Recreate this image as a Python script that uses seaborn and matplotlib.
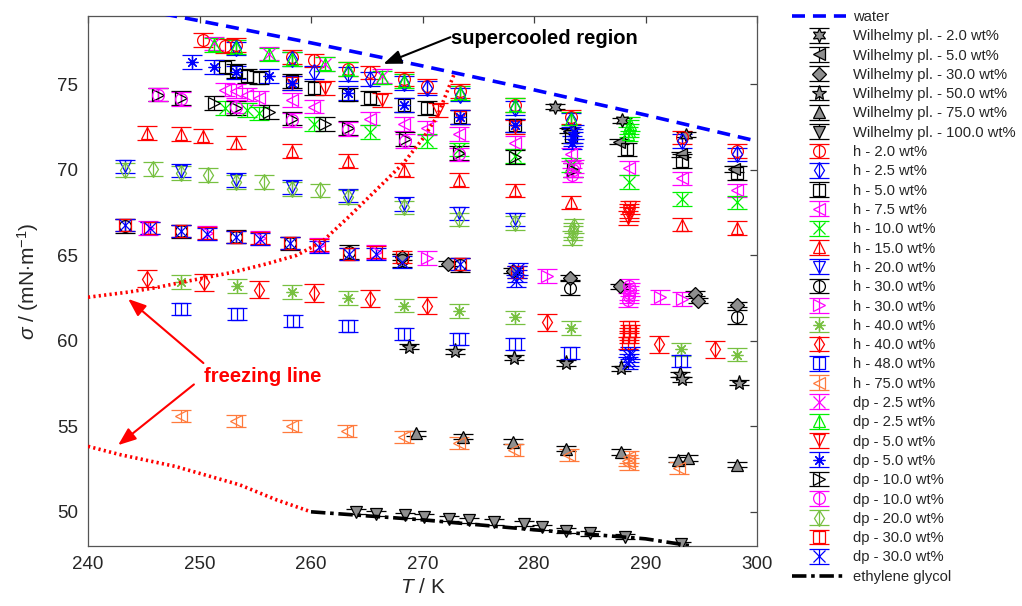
import matplotlib
matplotlib.use('Agg')
import matplotlib.pyplot as plt
import seaborn as sns
from matplotlib.lines import Line2D

# ---------------- data ----------------
T_water = [245, 250, 260, 270, 280, 290, 300]
S_water = [79.34, 78.72, 77.43, 76.08, 74.68, 73.21, 71.68]

T_freeze_hi = [240, 243.6, 246, 249, 252.9, 256, 258.7, 261, 263.3, 265.5, 268.3, 270, 271.3, 272.9]
S_freeze_hi = [62.55, 62.85, 63.1, 63.5, 64.0, 64.5, 65.0, 65.8, 67.2, 68.6, 70.4, 71.8, 73.1, 75.7]
T_freeze_lo = [240, 242.9, 247.8, 253.6, 256.9, 260]
S_freeze_lo = [53.83, 53.34, 52.66, 51.58, 50.7, 50.0]

T_eg = [260, 270, 280, 290, 294.2]
S_eg = [50.0, 49.53, 48.95, 48.42, 48.0]

T_w2 = [281.9, 287.9, 293.6]
S_w2 = [73.7, 72.9, 72.05]
T_w5 = [283.1, 287.6, 293.2, 297.9]
S_w5 = [72.3, 71.65, 70.9, 70.05]
T_w30 = [268.2, 272.3, 278.1, 283.2, 287.7, 294.4, 294.7, 298.2]
S_w30 = [64.9, 64.5, 64.1, 63.7, 63.2, 62.75, 62.35, 62.1]
T_w50 = [268.75, 272.9, 278.2, 282.9, 287.8, 293.1, 293.3, 298.4]
S_w50 = [59.66, 59.4, 59.0, 58.7, 58.4, 58.04, 57.75, 57.55]
T_w75 = [269.4, 273.6, 278.1, 282.9, 287.8, 292.9, 293.8, 298.2]
S_w75 = [54.6, 54.4, 54.1, 53.7, 53.5, 53.05, 53.15, 52.75]
T_w100 = [264.0, 265.8, 268.4, 270.1, 272.4, 274.2, 276.4, 279.1, 280.7, 282.9, 285.0, 288.2, 293.2]
S_w100 = [50.0, 49.9, 49.8, 49.7, 49.6, 49.5, 49.4, 49.3, 49.1, 48.9, 48.75, 48.55, 48.1]

T_h2 = [250.3, 252.3, 253.3, 258.3, 260.3, 263.3, 265.3, 268.3, 270.4, 273.4, 278.3, 283.3, 293.3, 298.2]
S_h2 = [77.6, 77.25, 77.3, 76.6, 76.4, 75.9, 75.7, 75.3, 74.9, 74.6, 73.8, 73.1, 71.9, 71.1]
T_h25 = [253.3, 258.3, 260.3, 263.3, 265.3, 268.3, 270.4, 273.4, 278.3, 283.3, 293.3, 298.2]
S_h25 = [77.1, 76.5, 75.7, 75.6, 75.3, 75.1, 74.8, 74.4, 73.6, 72.9, 71.7, 70.9]
T_h5 = [252.3, 253.3, 254.3, 255.3, 258.3, 260.3, 263.3, 265.3, 268.3, 270.4, 273.4, 278.3, 283.3, 288.3, 293.3, 298.2]
S_h5 = [76.0, 75.8, 75.5, 75.4, 75.2, 74.8, 74.4, 74.2, 73.8, 73.6, 73.1, 72.6, 72.0, 71.2, 70.5, 69.8]
T_h75s = [252.3, 253.3, 254.3, 255.3, 258.3, 260.3, 265.3, 268.3, 270.4, 273.3, 278.3, 283.3, 288.5, 293.3, 298.2]
S_h75s = [74.7, 74.6, 74.4, 74.2, 74.1, 73.7, 73.0, 72.7, 72.45, 72.1, 71.6, 70.9, 70.1, 69.5, 68.8]
T_h10 = [252.3, 254.3, 255.3, 260.3, 265.3, 270.4, 273.3, 278.3, 283.3, 288.5, 293.3, 298.2]
S_h10 = [73.6, 73.5, 73.3, 72.7, 72.2, 71.7, 71.2, 70.8, 70.3, 69.3, 68.3, 68.1]
T_h15 = [245.3, 248.3, 250.3, 253.3, 258.3, 263.3, 268.3, 273.3, 278.3, 283.3, 293.3, 298.2]
S_h15 = [72.16, 72.1, 72.0, 71.6, 71.1, 70.5, 70.0, 69.4, 68.8, 68.1, 66.8, 66.6]
T_h20 = [243.3, 248.3, 253.3, 258.3, 263.3, 268.3, 273.3, 278.3]
S_h20 = [70.2, 69.96, 69.4, 69.0, 68.5, 68.0, 67.45, 67.1]
T_h30k = [243.3, 248.3, 253.3, 258.1, 263.4, 268.15, 273.4, 283.2, 298.2]
S_h30k = [66.7, 66.4, 66.1, 65.7, 65.2, 64.7, 64.45, 63.1, 61.4]
T_h30m = [245.4, 250.7, 255.4, 260.7, 265.8, 270.4, 281.2, 291.3, 293.3]
S_h30m = [66.6, 66.3, 66.0, 65.6, 65.2, 64.85, 63.8, 62.55, 62.45]
T_h40g = [248.3, 253.35, 258.3, 263.3, 268.35, 273.3, 278.3, 283.3, 293.2, 298.2]
S_h40g = [63.43, 63.2, 62.85, 62.5, 62.06, 61.76, 61.37, 60.75, 59.5, 59.2]
T_h40r = [245.3, 250.4, 255.3, 260.3, 265.3, 270.4, 281.15, 291.2, 296.2]
S_h40r = [63.63, 63.43, 63.0, 62.8, 62.45, 62.06, 61.08, 59.8, 59.5]
T_h48 = [248.3, 253.35, 258.35, 263.3, 268.35, 273.3, 278.3, 283.2, 293.2]
S_h48 = [61.86, 61.57, 61.18, 60.84, 60.39, 60.1, 59.8, 59.3, 58.8]
T_h75 = [248.3, 253.3, 258.3, 263.2, 268.3, 273.3, 278.2, 283.1, 288.4, 288.5, 288.5, 293.0]
S_h75 = [55.6, 55.3, 55.0, 54.7, 54.4, 54.0, 53.6, 53.3, 53.0, 52.8, 53.2, 52.55]

T_dp25m = [251.3, 256.2, 261.3, 266.4]
S_dp25m = [77.4, 76.8, 76.2, 75.5]
T_dp25g = [251.3, 253.3, 256.2, 258.3, 261.3, 263.3, 266.4, 268.3, 273.4, 278.3, 283.3, 288.4, 288.5, 288.5, 288.6]
S_dp25g = [77.3, 77.2, 76.75, 76.5, 76.2, 75.9, 75.4, 75.2, 74.5, 73.8, 73.0, 72.1, 72.3, 72.5, 72.7]
T_dp5r = [258.3, 261.3, 266.4, 271.4, 273.4, 278.3, 288.4, 288.5, 288.5, 288.6]
S_dp5r = [75.1, 74.8, 74.1, 73.5, 73.1, 72.5, 67.2, 67.4, 67.6, 67.8]
T_dp5b = [249.3, 251.3, 253.3, 256.2, 258.3, 263.3, 268.3, 273.4, 278.3, 283.4, 283.5, 283.5, 283.6]
S_dp5b = [76.3, 76.0, 75.7, 75.5, 75.1, 74.5, 73.8, 73.1, 72.6, 71.6, 71.8, 72.0, 72.2]
T_dp10k = [246.3, 248.3, 251.3, 253.3, 256.2, 258.3, 261.3, 263.3, 268.4, 273.3, 278.3, 283.5]
S_dp10k = [74.4, 74.2, 73.9, 73.6, 73.4, 73.0, 72.7, 72.45, 71.8, 71.0, 70.75, 70.0]
T_dp10m = [246.3, 248.3, 253.3, 258.3, 263.3, 268.4, 273.3, 283.4, 283.5, 283.6, 288.4, 288.5, 288.5, 288.6, 288.5]
S_dp10m = [74.4, 74.15, 73.7, 72.9, 72.4, 71.7, 70.9, 69.7, 70.0, 70.2, 62.4, 62.6, 62.8, 63.0, 63.2]
T_dp20 = [243.3, 245.8, 248.3, 250.8, 253.3, 255.8, 258.3, 260.8, 263.3, 268.3, 273.3, 278.3, 283.4, 283.5, 283.5, 283.6]
S_dp20 = [70.0, 70.04, 69.8, 69.7, 69.3, 69.3, 68.9, 68.8, 68.4, 67.8, 67.1, 66.9, 66.0, 66.3, 66.5, 66.7]
T_dp30r = [243.3, 245.6, 248.3, 250.7, 253.3, 255.4, 258.1, 260.7, 263.4, 265.8, 268.15, 273.4, 278.5, 288.4, 288.5, 288.5, 288.6, 288.5]
S_dp30r = [66.8, 66.6, 66.4, 66.3, 66.1, 66.0, 65.7, 65.6, 65.1, 65.2, 64.9, 64.5, 64.0, 59.9, 60.2, 60.4, 60.6, 60.8]
T_dp30b = [243.3, 245.6, 248.3, 250.7, 253.3, 255.4, 258.1, 260.7, 263.4, 265.8, 268.15, 273.4, 278.4, 278.5, 278.5, 278.6, 288.4, 288.5, 288.5, 288.6]
S_dp30b = [66.8, 66.6, 66.4, 66.25, 66.1, 65.95, 65.7, 65.5, 65.1, 65.1, 64.6, 64.5, 63.5, 63.8, 64.0, 64.2, 58.7, 58.9, 59.1, 59.3]

# ---------------- style ----------------
sns.set_theme(style='white')
plt.rcParams['font.family'] = ['Liberation Sans', 'DejaVu Sans']
plt.rcParams['mathtext.fontset'] = 'custom'
plt.rcParams['mathtext.rm'] = 'Liberation Sans'
plt.rcParams['mathtext.it'] = 'Liberation Sans:italic'

RED, BLUE, BLACK, MAG, GRN = (1, 0, 0), (0, 0, 1), (0, 0, 0), (1, 0, 1), (0, 0.95, 0)
LGRN, ORNG, GRAY = '#77c040', '#ff7a3c', '#8f8f8f'

fig = plt.figure(figsize=(10.22, 6.06), dpi=100)
ax = fig.add_axes([88 / 1022, 1 - 546 / 606, (757 - 88) / 1022, (546 - 16) / 606])

# lines through seaborn
sns.lineplot(x=T_water, y=S_water, ax=ax, color='blue', linewidth=2.6,
             linestyle=(0, (3.6, 2.2)), sort=False, estimator=None, zorder=5)
sns.lineplot(x=T_freeze_hi, y=S_freeze_hi, ax=ax, color='red', linewidth=2.6,
             linestyle=(0, (0.6, 0.9)), sort=False, estimator=None, zorder=5)
sns.lineplot(x=T_freeze_lo, y=S_freeze_lo, ax=ax, color='red', linewidth=2.6,
             linestyle=(0, (0.6, 0.9)), sort=False, estimator=None, zorder=5)

series = [
    (T_w2, S_w2, 0.15, (6, 1, 0), BLACK, GRAY, 'Wilhelmy pl. - 2.0 wt%'),
    (T_w5, S_w5, 0.15, '<', BLACK, GRAY, 'Wilhelmy pl. - 5.0 wt%'),
    (T_w30, S_w30, 0.15, 'D', BLACK, GRAY, 'Wilhelmy pl. - 30.0 wt%'),
    (T_w50, S_w50, 0.15, '*', BLACK, GRAY, 'Wilhelmy pl. - 50.0 wt%'),
    (T_w75, S_w75, 0.15, '^', BLACK, GRAY, 'Wilhelmy pl. - 75.0 wt%'),
    (T_w100, S_w100, 0.15, 'v', BLACK, GRAY, 'Wilhelmy pl. - 100.0 wt%'),
    (T_h2, S_h2, 0.4, 'o', RED, None, 'h - 2.0 wt%'),
    (T_h25, S_h25, 0.4, 'd', BLUE, None, 'h - 2.5 wt%'),
    (T_h5, S_h5, 0.4, 's', BLACK, None, 'h - 5.0 wt%'),
    (T_h75s, S_h75s, 0.4, '<', MAG, None, 'h - 7.5 wt%'),
    (T_h10, S_h10, 0.4, 'x', GRN, None, 'h - 10.0 wt%'),
    (T_h15, S_h15, 0.4, '^', RED, None, 'h - 15.0 wt%'),
    (T_h20, S_h20, 0.4, 'v', BLUE, None, 'h - 20.0 wt%'),
    (T_h30k, S_h30k, 0.4, 'o', BLACK, None, 'h - 30.0 wt%'),
    (T_h30m, S_h30m, 0.4, '>', MAG, None, 'h - 30.0 wt%'),
    (T_h40g, S_h40g, 0.4, (8, 2, 0), LGRN, None, 'h - 40.0 wt%'),
    (T_h40r, S_h40r, 0.5, 'd', RED, None, 'h - 40.0 wt%'),
    (T_h48, S_h48, 0.35, 's', BLUE, None, 'h - 48.0 wt%'),
    (T_h75, S_h75, 0.35, '<', ORNG, None, 'h - 75.0 wt%'),
    (T_dp25m, S_dp25m, 0.4, 'x', MAG, None, 'dp - 2.5 wt%'),
    (T_dp25g, S_dp25g, 0.4, '^', GRN, None, 'dp - 2.5 wt%'),
    (T_dp5r, S_dp5r, 0.4, 'v', RED, None, 'dp - 5.0 wt%'),
    (T_dp5b, S_dp5b, 0.4, (8, 2, 0), BLUE, None, 'dp - 5.0 wt%'),
    (T_dp10k, S_dp10k, 0.4, '>', BLACK, None, 'dp - 10.0 wt%'),
    (T_dp10m, S_dp10m, 0.4, 'o', MAG, None, 'dp - 10.0 wt%'),
    (T_dp20, S_dp20, 0.4, 'd', LGRN, None, 'dp - 20.0 wt%'),
    (T_dp30r, S_dp30r, 0.35, 's', RED, None, 'dp - 30.0 wt%'),
    (T_dp30b, S_dp30b, 0.35, 'x', BLUE, None, 'dp - 30.0 wt%'),
]

handles = []
water_h = Line2D([], [], color='blue', lw=2.6, linestyle=(0, (3.6, 2.2)))
handles.append((water_h, 'water'))
for T, S, e, m, c, fill, lab in series:
    ms = 8.5
    if m == '*':
        ms = 11
    if m == (6, 1, 0):
        ms = 10
    if m == 'D':
        ms = 7
    cont = ax.errorbar(T, S, yerr=e, marker=m, linestyle='none',
                       color=c, mec=c, mfc=(fill if fill is not None else 'none'),
                       ms=ms, mew=0.9, elinewidth=0.9, capsize=7, capthick=0.9,
                       ecolor=c, zorder=3)
    handles.append((cont, lab))

sns.lineplot(x=T_eg, y=S_eg, ax=ax, color='black', linewidth=2.6,
             linestyle=(0, (4.0, 1.3, 1.0, 1.3)), sort=False, estimator=None, zorder=6)
eg_h = Line2D([], [], color='black', lw=2.6, linestyle=(0, (4.0, 1.3, 1.0, 1.3)))
handles.append((eg_h, 'ethylene glycol'))

# ---------------- axes ----------------
ax.set_xlim(240, 300)
ax.set_ylim(48, 79)
ax.set_xticks([240, 250, 260, 270, 280, 290, 300])
ax.set_yticks([50, 55, 60, 65, 70, 75])
ax.tick_params(direction='in', top=True, right=True, length=5, width=0.9,
               colors='#404040', labelcolor='#262626', labelsize=13.5, pad=7)
for sp in ax.spines.values():
    sp.set_color('#555555')
    sp.set_linewidth(0.9)
    sp.set_visible(True)
ax.set_xlabel(r'$T$ / K', fontsize=15, color='#262626', labelpad=4)
ax.set_ylabel(r'$\sigma$ / (mN$\cdot$m$^{-1}$)', fontsize=15, color='#262626', labelpad=12)

# ---------------- annotations ----------------
ax.text(272.6, 77.7, 'supercooled region', fontsize=14.5, fontweight='bold',
        color='black', ha='left', va='center', zorder=10)
ax.annotate('', xy=(266.5, 76.2), xytext=(272.5, 77.76),
            arrowprops=dict(arrowstyle='-|>,head_length=0.9,head_width=0.35', color='black',
                            lw=1.5, shrinkA=0, shrinkB=0), zorder=10)
ax.text(250.4, 57.9, 'freezing line', fontsize=14.5, fontweight='bold',
        color='red', ha='left', va='center', zorder=10)
ax.annotate('', xy=(243.6, 62.45), xytext=(250.35, 58.7),
            arrowprops=dict(arrowstyle='-|>,head_length=0.9,head_width=0.35', color='red',
                            lw=1.5, shrinkA=0, shrinkB=0), zorder=10)
ax.annotate('', xy=(242.7, 53.9), xytext=(249.5, 57.45),
            arrowprops=dict(arrowstyle='-|>,head_length=0.9,head_width=0.35', color='red',
                            lw=1.5, shrinkA=0, shrinkB=0), zorder=10)

# ---------------- legend ----------------
leg = fig.legend([h for h, _ in handles], [l for _, l in handles],
                 loc='upper left', bbox_to_anchor=(792 / 1022, 1 - 10 / 606),
                 frameon=False, fontsize=10.6, handlelength=3.7, handletextpad=0.45,
                 labelspacing=0.36, borderpad=0.0, borderaxespad=0.0)

fig.savefig('out.png', dpi=100)
